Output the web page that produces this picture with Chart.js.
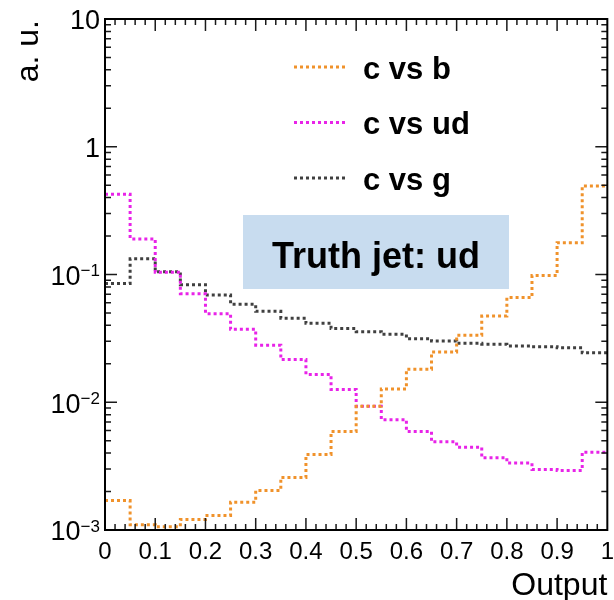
<!DOCTYPE html>
<html>
<head>
<meta charset="utf-8">
<script src="https://cdn.jsdelivr.net/npm/chart.js"></script>
<style>
  body { margin: 0; background: #fff; }
  canvas { display: block; }
</style>
</head>
<body>
<canvas id="histChart" width="614" height="600"></canvas>
<script>
    // bin edges of the Output axis (20 bins)
    var binEdges = [0, 0.05, 0.1, 0.15, 0.2, 0.25, 0.3, 0.35, 0.4, 0.45, 0.5,
                    0.55, 0.6, 0.65, 0.7, 0.75, 0.8, 0.85, 0.9, 0.95, 1];

    // bin contents
    var cVsB  = [0.0017, 0.0011, 0.00106, 0.00121, 0.0013, 0.00165, 0.00204, 0.00258, 0.0039, 0.0059,
                 0.0093, 0.0127, 0.0181, 0.0247, 0.0334, 0.0473, 0.066, 0.098, 0.177, 0.494];
    var cVsUd = [0.425, 0.19, 0.104, 0.0708, 0.0494, 0.0372, 0.028, 0.0216, 0.0165, 0.0126,
                 0.0093, 0.0073, 0.0059, 0.0049, 0.00445, 0.00368, 0.00334, 0.00298, 0.00292, 0.00406];
    var cVsG  = [0.085, 0.133, 0.105, 0.083, 0.069, 0.0585, 0.0515, 0.0455, 0.0415, 0.0377,
                 0.0357, 0.034, 0.0314, 0.0301, 0.0289, 0.0284, 0.0276, 0.0272, 0.0267, 0.0244];

    var seriesNames  = ['c vs b', 'c vs ud', 'c vs g'];
    var seriesColors = ['#f0922b', '#e823e8', '#404040'];
    var yDecades = [1, 0, -1, -2, -3];
    var xTitle = 'Output';
    var yTitle = 'a. u.';
    var truthLabel = 'Truth jet: ud';

    var FONT = 'Liberation Sans, Arial, Helvetica, sans-serif';
    Chart.defaults.font.family = FONT;
    Chart.defaults.color = '#000';

    // histogram -> points on the left bin edges, plus closing point at x=1
    var stepPoints = function(values){
        var pts = values.map(function(v, i){ return {x: binEdges[i], y: v}; });
        pts.push({x: binEdges[binEdges.length - 1], y: values[values.length - 1]});
        return pts;
    }

    var histDataset = function(i, values){
        return {
            label: seriesNames[i],
            data: stepPoints(values),
            borderColor: seriesColors[i],
            borderWidth: 3,
            borderDash: [3, 3],
            stepped: true,
            pointRadius: 0,
            fill: false,
        };
    }

    // ROOT-like frame, inward ticks, y labels with exponents, titles, legend and text box
    var rootFrame = {
        id: 'rootFrame',
        afterDraw: function(chart){
            var c = chart.ctx, a = chart.chartArea;
            var xs = chart.scales.x, ys = chart.scales.y;
            c.save();

            c.strokeStyle = '#1a1a1a';
            c.lineWidth = 1.5;
            c.beginPath();
            for (var k = 1; k < 50; k++) {
                var px = xs.getPixelForValue(k / 50);
                var len = (k % 5 === 0) ? 12 : 6;
                c.moveTo(px, a.bottom); c.lineTo(px, a.bottom - len);
                c.moveTo(px, a.top);    c.lineTo(px, a.top + len);
            }
            for (var e = -3; e <= 0; e++) {
                for (var m = 1; m <= 9; m++) {
                    if (e === -3 && m === 1) continue;
                    var py = ys.getPixelForValue(m * Math.pow(10, e));
                    var l2 = (m === 1) ? 12 : 6;
                    c.moveTo(a.left, py);  c.lineTo(a.left + l2, py);
                    c.moveTo(a.right, py); c.lineTo(a.right - l2, py);
                }
            }
            c.stroke();

            c.strokeStyle = '#000';
            c.lineWidth = 2;
            c.strokeRect(a.left, a.top, a.right - a.left, a.bottom - a.top);

            // y tick labels
            c.fillStyle = '#000';
            c.textBaseline = 'middle';
            yDecades.forEach(function(ex){
                var py = ys.getPixelForValue(Math.pow(10, ex));
                var xr = a.left - 5;
                if (ex >= 0) {
                    c.font = '27px ' + FONT;
                    c.textAlign = 'right';
                    c.fillText(ex === 0 ? '1' : '10', xr, py + 3);
                } else {
                    c.font = '17px ' + FONT;
                    var sup = '\u2212' + (-ex);
                    var sw = c.measureText(sup).width;
                    c.textAlign = 'right';
                    c.fillText(sup, xr, py - 3);
                    c.font = '27px ' + FONT;
                    c.fillText('10', xr - sw, py + 3);
                }
            });

            // axis titles, ROOT style at the far ends
            c.textBaseline = 'alphabetic';
            c.textAlign = 'right';
            c.font = '32px ' + FONT;
            c.fillText(xTitle, a.right, 595);
            c.save();
            c.translate(38, a.top + 1);
            c.rotate(-Math.PI / 2);
            c.fillText(yTitle, 0, 0);
            c.restore();

            // legend
            c.textAlign = 'left';
            seriesNames.forEach(function(name, i){
                var ly = 67 + i * 55.5;
                c.strokeStyle = seriesColors[i];
                c.lineWidth = 3;
                c.setLineDash([3, 3]);
                c.beginPath(); c.moveTo(294, ly); c.lineTo(346, ly); c.stroke();
                c.setLineDash([]);
                c.font = 'bold 31px ' + FONT;
                c.fillStyle = '#000';
                c.fillText(name, 363, ly + 11.5);
            });

            // truth label box
            c.fillStyle = '#c8dcef';
            c.fillRect(243, 215, 266, 74);
            c.fillStyle = '#000';
            c.font = 'bold 36px ' + FONT;
            c.textAlign = 'center';
            c.fillText(truthLabel, 376, 268);

            c.restore();
        }
    };

    var ctx = document.getElementById('histChart');
    var histChart = new Chart(ctx, {
        type: 'line',
        data: {
            datasets: [
                histDataset(0, cVsB),
                histDataset(1, cVsUd),
                histDataset(2, cVsG),
            ]
        },
        options: {
            responsive: false,
            animation: false,
            devicePixelRatio: 1,
            layout: { padding: { top: 19, right: 6, bottom: 0, left: 0 } },
            plugins: {
                legend: { display: false },
                tooltip: { enabled: false },
            },
            scales: {
                x: {
                    type: 'linear',
                    min: 0,
                    max: 1,
                    grid: { display: false },
                    border: { display: false },
                    ticks: {
                        stepSize: 0.1,
                        autoSkip: false,
                        maxRotation: 0,
                        padding: 0,
                        color: '#000',
                        font: { size: 24 },
                        callback: function(v){ return String(+v.toFixed(1)); }
                    },
                    afterFit: function(s){ s.height = 70; }
                },
                y: {
                    type: 'logarithmic',
                    min: 0.001,
                    max: 10,
                    grid: { display: false },
                    border: { display: false },
                    ticks: { display: false },
                    afterFit: function(s){ s.width = 105; }
                }
            }
        },
        plugins: [rootFrame]
    });
</script>
</body>
</html>
